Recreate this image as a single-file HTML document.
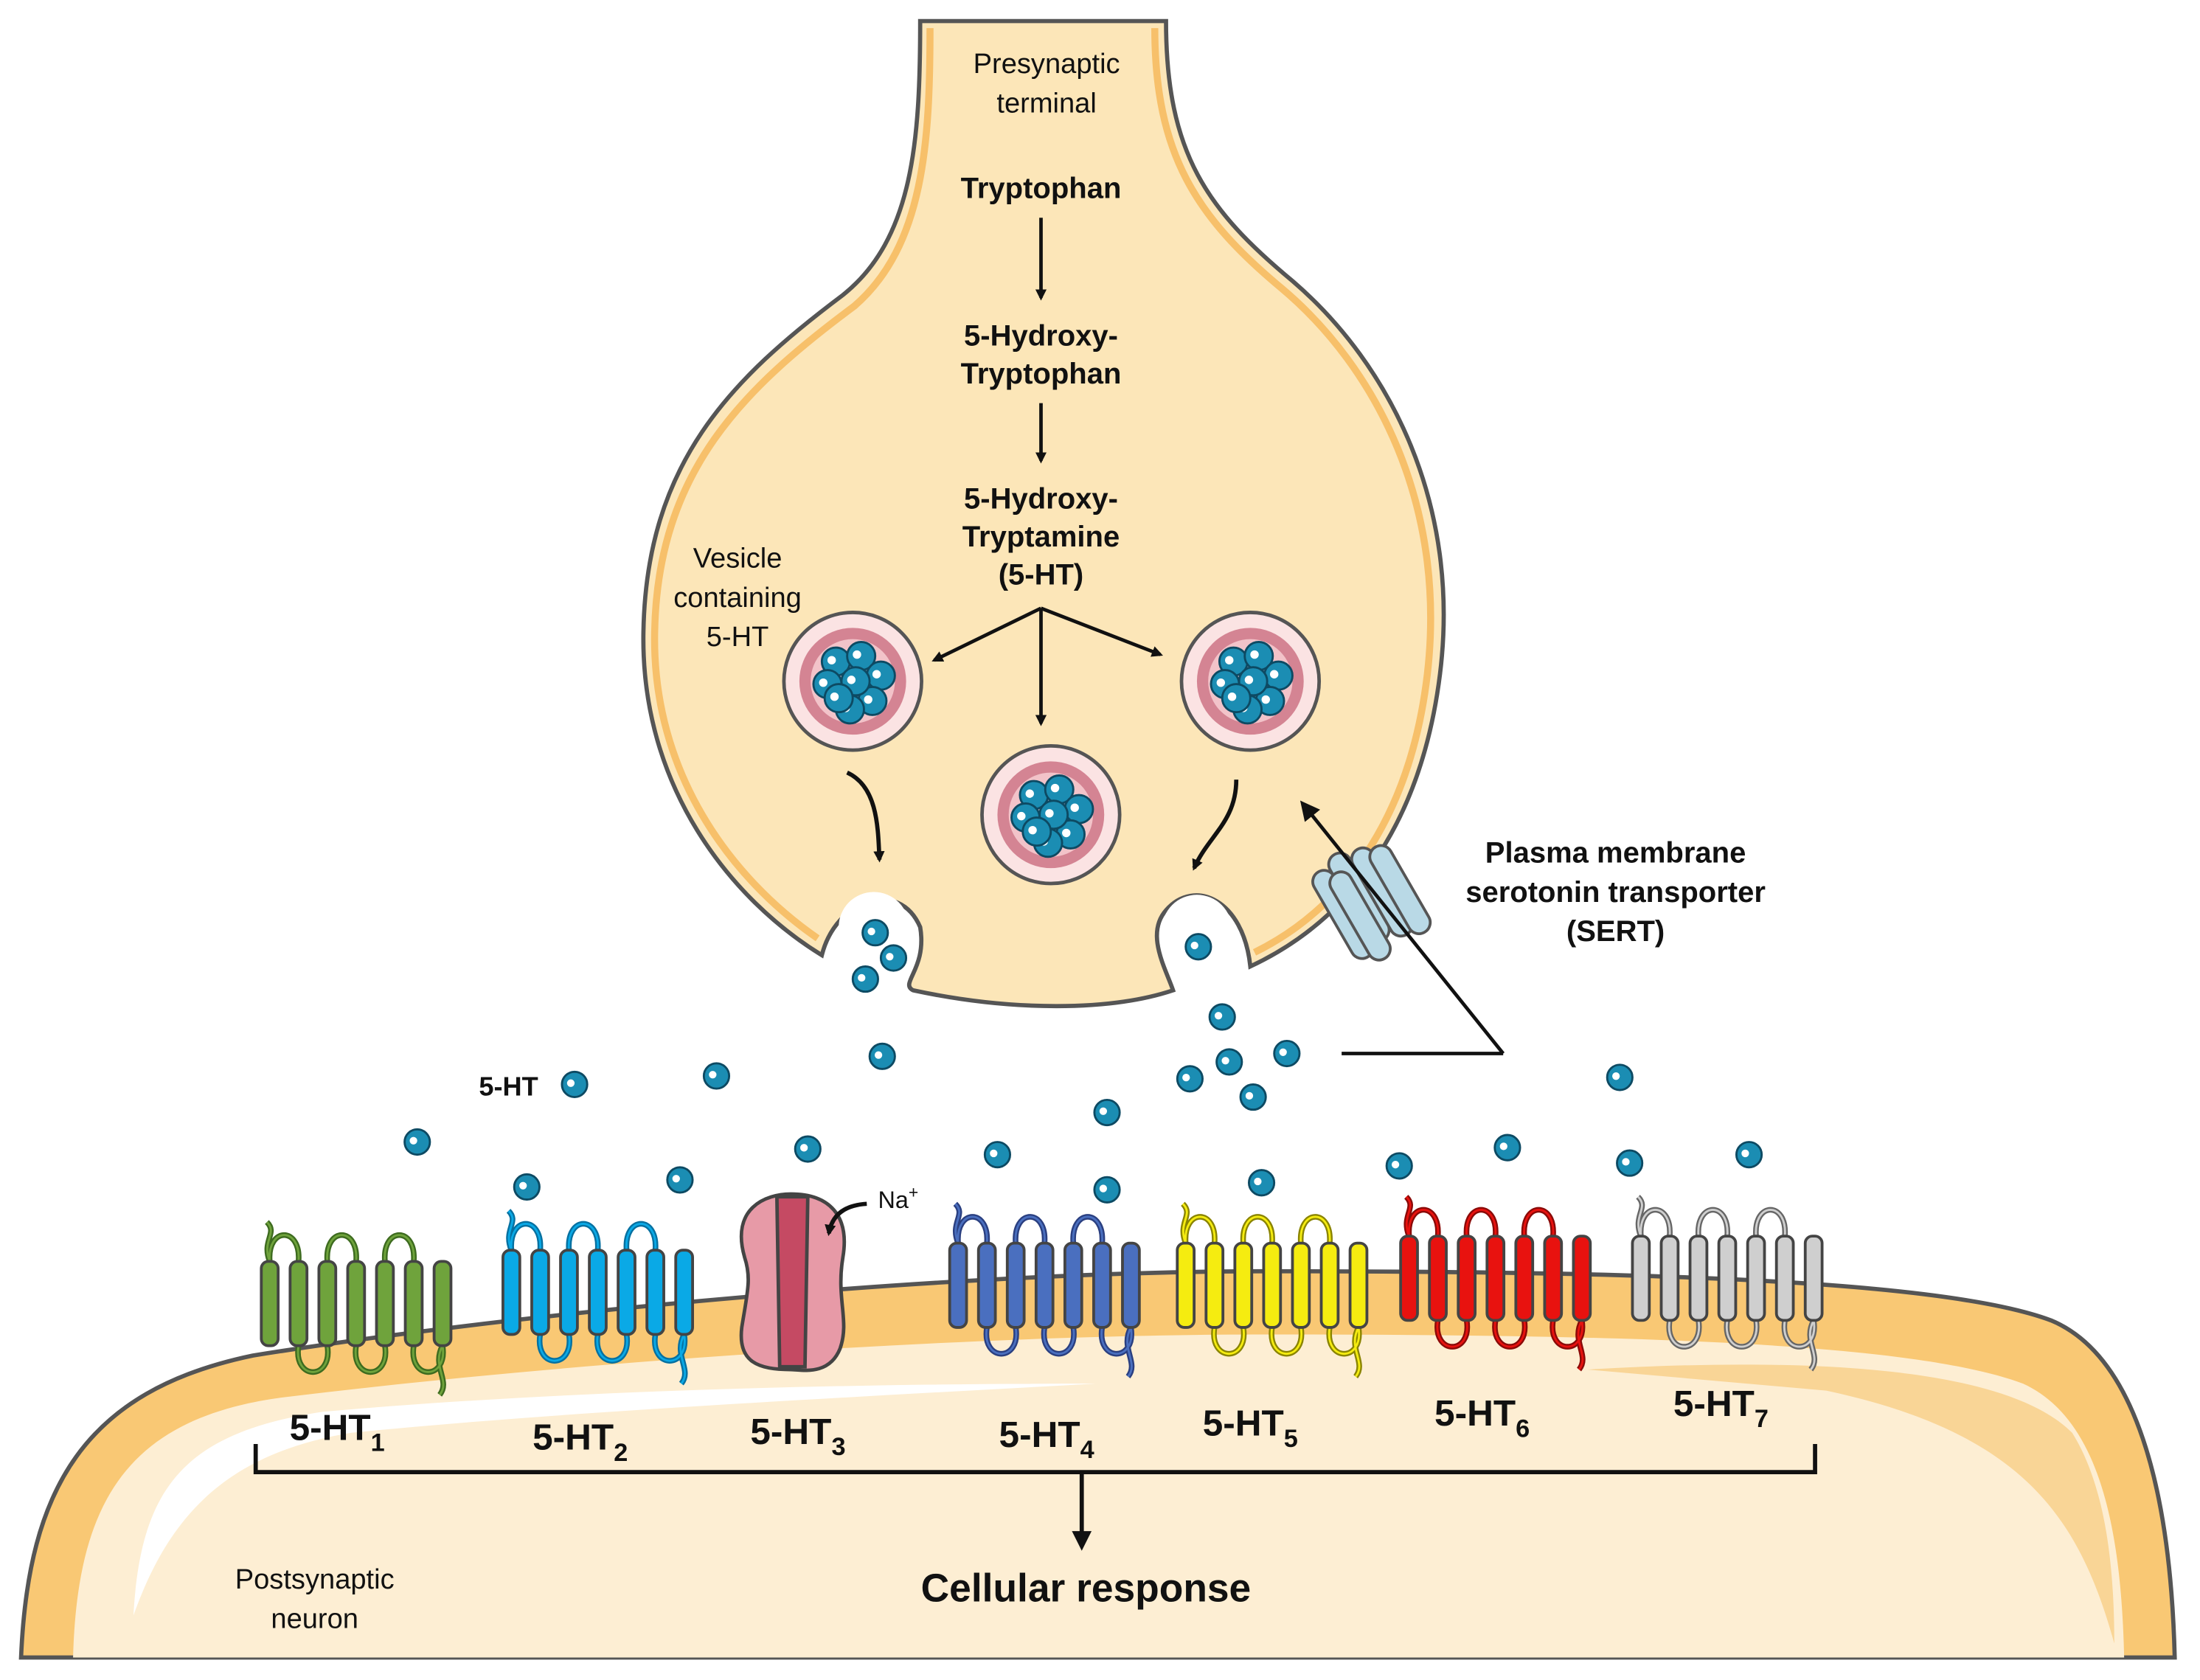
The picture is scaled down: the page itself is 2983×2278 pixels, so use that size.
<!DOCTYPE html>
<html><head><meta charset="utf-8">
<style>
html,body{margin:0;padding:0;background:#fff;}
svg{display:block;}
text{font-family:"Liberation Sans",sans-serif;fill:#111;}
.b{font-weight:bold;}
</style></head>
<body>
<svg id="s" width="2983" height="2278" viewBox="0 0 1566 1196" preserveAspectRatio="none" xmlns="http://www.w3.org/2000/svg">
<defs>
<marker id="ah" markerWidth="8" markerHeight="8" refX="6" refY="4" orient="auto" markerUnits="userSpaceOnUse"><path d="M0,0 L8,4 L0,8 z" fill="#111"/></marker>
<marker id="ah2" markerWidth="14" markerHeight="14" refX="10" refY="7" orient="auto" markerUnits="userSpaceOnUse"><path d="M0,0 L14,7 L0,14 z" fill="#111"/></marker>
</defs>
<path d="M15,1180 C20,1060 60,990 180,965 C400,930 700,905 900,905 C1150,905 1380,910 1460,940 C1520,965 1545,1060 1548,1180 Z" fill="#f9c874" stroke="#555" stroke-width="3"/>
<path d="M52,1180 C55,1070 90,1010 200,995 C420,968 700,950 900,950 C1150,950 1360,955 1440,985 C1495,1010 1510,1090 1512,1180 Z" fill="#fdeed3"/>
<path d="M95,1150 C100,1060 130,1020 230,1005 C400,990 600,985 780,985 C600,995 400,1005 250,1020 C160,1035 120,1080 95,1150 Z" fill="#fff"/>
<path d="M1130,975 C1300,965 1430,975 1475,1020 C1500,1060 1505,1120 1505,1170 C1480,1080 1440,1020 1300,990 Z" fill="#f9d596"/>
<path d="M655,15 C655,100 650,170 600,210 C520,270 460,330 458,450 C456,560 520,640 585,680 C595,640 640,625 655,660 C660,690 640,700 650,705 C720,720 790,720 835,705 C830,690 815,665 830,648 C850,625 885,640 890,688 C950,660 1010,600 1025,480 C1040,360 990,260 920,200 C860,150 830,110 830,15 Z" fill="#fce6b8" stroke="#555" stroke-width="3"/>
<path d="M662,20 C662,100 658,175 608,218 C530,276 468,335 466,450 C464,550 520,625 582,668" fill="none" stroke="#f7c06a" stroke-width="5"/>
<path d="M822,20 C822,110 852,155 912,205 C980,262 1030,360 1016,480 C1003,590 950,650 893,678" fill="none" stroke="#f7c06a" stroke-width="5"/>
<circle cx="622" cy="660" r="25" fill="#fff" stroke="none"/>
<circle cx="852" cy="662" r="25" fill="#fff"/>
<text x="745" y="52" font-size="20" text-anchor="middle">Presynaptic</text>
<text x="745" y="80" font-size="20" text-anchor="middle">terminal</text>
<text x="741" y="141" font-size="21" class="b" text-anchor="middle">Tryptophan</text>
<line x1="741" y1="155" x2="741" y2="212" stroke="#111" stroke-width="2.5" marker-end="url(#ah)"/>
<text x="741" y="246" font-size="21" class="b" text-anchor="middle">5-Hydroxy-</text>
<text x="741" y="273" font-size="21" class="b" text-anchor="middle">Tryptophan</text>
<line x1="741" y1="287" x2="741" y2="328" stroke="#111" stroke-width="2.5" marker-end="url(#ah)"/>
<text x="741" y="362" font-size="21" class="b" text-anchor="middle">5-Hydroxy-</text>
<text x="741" y="389" font-size="21" class="b" text-anchor="middle">Tryptamine</text>
<text x="741" y="416" font-size="21" class="b" text-anchor="middle">(5-HT)</text>
<g stroke="#111" stroke-width="2.5" marker-end="url(#ah)">
<line x1="741" y1="433" x2="665" y2="470"/>
<line x1="741" y1="433" x2="741" y2="515"/>
<line x1="741" y1="433" x2="826" y2="466"/>
</g>
<text x="525" y="404" font-size="20" text-anchor="middle">Vesicle</text>
<text x="525" y="432" font-size="20" text-anchor="middle">containing</text>
<text x="525" y="460" font-size="20" text-anchor="middle">5-HT</text>
<path d="M603,550 C625,560 625,590 626,612" fill="none" stroke="#111" stroke-width="3" marker-end="url(#ah)"/>
<path d="M880,555 C880,585 860,595 850,618" fill="none" stroke="#111" stroke-width="3" marker-end="url(#ah)"/>
<g id="ves"></g>
<g transform="translate(975,640) rotate(-30)" stroke="#555" stroke-width="2" fill="#b9d9e6">
<rect x="-30" y="-35" width="16" height="70" rx="8"/><rect x="-14" y="-40" width="16" height="70" rx="8"/>
<rect x="2" y="-35" width="16" height="70" rx="8"/><rect x="-20" y="-28" width="16" height="70" rx="8"/><rect x="14" y="-30" width="16" height="70" rx="8"/>
</g>
<polyline points="955,750 1070,750" fill="none" stroke="#111" stroke-width="2.5"/>
<line x1="1070" y1="750" x2="928" y2="573" stroke="#111" stroke-width="2.5" marker-end="url(#ah2)"/>
<text x="1150" y="614" font-size="21" class="b" text-anchor="middle">Plasma membrane</text>
<text x="1150" y="642" font-size="21" class="b" text-anchor="middle">serotonin transporter</text>
<text x="1150" y="670" font-size="21" class="b" text-anchor="middle">(SERT)</text>
<text x="362" y="780" font-size="19" class="b" text-anchor="middle">5-HT</text>
<g id="mol"></g>
<g id="rec"></g>
<g stroke="#444" stroke-width="2.5">
<path d="M530,895 C520,860 545,850 563,850 C590,850 605,865 600,895 C595,925 605,940 598,960 C590,980 570,975 563,975 C540,975 525,970 528,945 C532,920 535,910 530,895 Z" fill="#e79aa7"/>
<path d="M553,852 L575,852 L573,973 L555,973 Z" fill="#c54a63"/>
</g>
<text x="625" y="860" font-size="17" text-anchor="start">Na<tspan font-size="12" dy="-7">+</tspan></text>
<path d="M617,857 C600,858 592,866 590,878" fill="none" stroke="#111" stroke-width="3" marker-end="url(#ah)"/>
<g font-size="26" font-weight="bold" text-anchor="middle">
<text x="240" y="1025">5-HT<tspan font-size="18" dy="8">1</tspan></text>
<text x="413" y="1032">5-HT<tspan font-size="18" dy="8">2</tspan></text>
<text x="568" y="1028">5-HT<tspan font-size="18" dy="8">3</tspan></text>
<text x="745" y="1030">5-HT<tspan font-size="18" dy="8">4</tspan></text>
<text x="890" y="1022">5-HT<tspan font-size="18" dy="8">5</tspan></text>
<text x="1055" y="1015">5-HT<tspan font-size="18" dy="8">6</tspan></text>
<text x="1225" y="1008">5-HT<tspan font-size="18" dy="8">7</tspan></text>
</g>
<polyline points="182,1028 182,1048 1292,1048 1292,1028" fill="none" stroke="#111" stroke-width="3"/>
<line x1="770" y1="1048" x2="770" y2="1100" stroke="#111" stroke-width="3" marker-end="url(#ah2)"/>
<text x="773" y="1140" font-size="28" font-weight="bold" text-anchor="middle">Cellular response</text>
<text x="224" y="1131" font-size="20" text-anchor="middle">Postsynaptic</text>
<text x="224" y="1159" font-size="20" text-anchor="middle">neuron</text>
</svg>
<script>
var NS="http://www.w3.org/2000/svg";
function el(p,t,a){var e=document.createElementNS(NS,t);for(var k in a)e.setAttribute(k,a[k]);document.getElementById(p).appendChild(e);return e;}
function mol(p,x,y,r){el(p,"circle",{cx:x,cy:y,r:r,fill:"#1b8db3",stroke:"#0d4a63","stroke-width":1.5});el(p,"circle",{cx:x-r*0.3,cy:y-r*0.1,r:r*0.3,fill:"#fff"});}
[[607,485],[748,580],[890,485]].forEach(function(v){var x=v[0],y=v[1];
el("ves","circle",{cx:x,cy:y,r:49,fill:"#fbe3e3",stroke:"#555","stroke-width":2.5});
el("ves","circle",{cx:x,cy:y,r:38,fill:"#d48493"});
el("ves","circle",{cx:x,cy:y,r:30,fill:"#f2c3c9"});
var pts=[[-12,-14],[6,-18],[20,-4],[-18,2],[14,14],[-2,20],[2,0],[-10,12]];
pts.forEach(function(p){mol("ves",x+p[0],y+p[1],10);});});
[[623,664],[636,682],[616,697],[853,674],[628,752],[870,724],[409,772],[510,766],[297,813],[375,845],[484,840],[575,818],[710,822],[788,792],[788,847],[847,768],[875,756],[916,750],[892,781],[898,842],[996,830],[1073,817],[1153,767],[1160,828],[1245,822]].forEach(function(p){mol("mol",p[0],p[1],9);});
var R=[[186,"#6fa33c","#3d6b1f",898],[358,"#0aa9e6","#0670a0",890],[676,"#4a6fbf","#2a3f80",885],[838,"#f5ec10","#8a8400",885],[997,"#e8120f","#8a0a08",880],[1162,"#cfcfcf","#666",880]];
R.forEach(function(r){var x0=r[0];var top=r[3];var d="";
for(var i=0;i<7;i++){var x=x0+i*20.5;
if(i<6){var nx=x+20.5+6;
if(i%2==0){d+="M"+(x+6)+","+top+" C"+(x+4)+","+(top-25)+" "+(nx+2)+","+(top-25)+" "+nx+","+top+" ";}
else{d+="M"+(x+6)+","+(top+60)+" C"+(x+2)+","+(top+85)+" "+(nx+4)+","+(top+85)+" "+nx+","+(top+60)+" ";}}}
d+="M"+(x0+6)+","+top+" C"+x0+","+(top-15)+" "+(x0+12)+","+(top-20)+" "+(x0+4)+","+(top-28)+" ";
var lx=x0+6*20.5+6;d+="M"+lx+","+(top+60)+" C"+(lx-8)+","+(top+75)+" "+(lx+6)+","+(top+85)+" "+(lx-2)+","+(top+95);
el("rec","path",{d:d,fill:"none",stroke:r[2],"stroke-width":4});
el("rec","path",{d:d,fill:"none",stroke:r[1],"stroke-width":1.5});
for(var i=0;i<7;i++){el("rec","rect",{x:x0+i*20.5,y:top,width:12,height:60,rx:5,fill:r[1],stroke:"#444","stroke-width":2});}});
</script>
</body></html>
